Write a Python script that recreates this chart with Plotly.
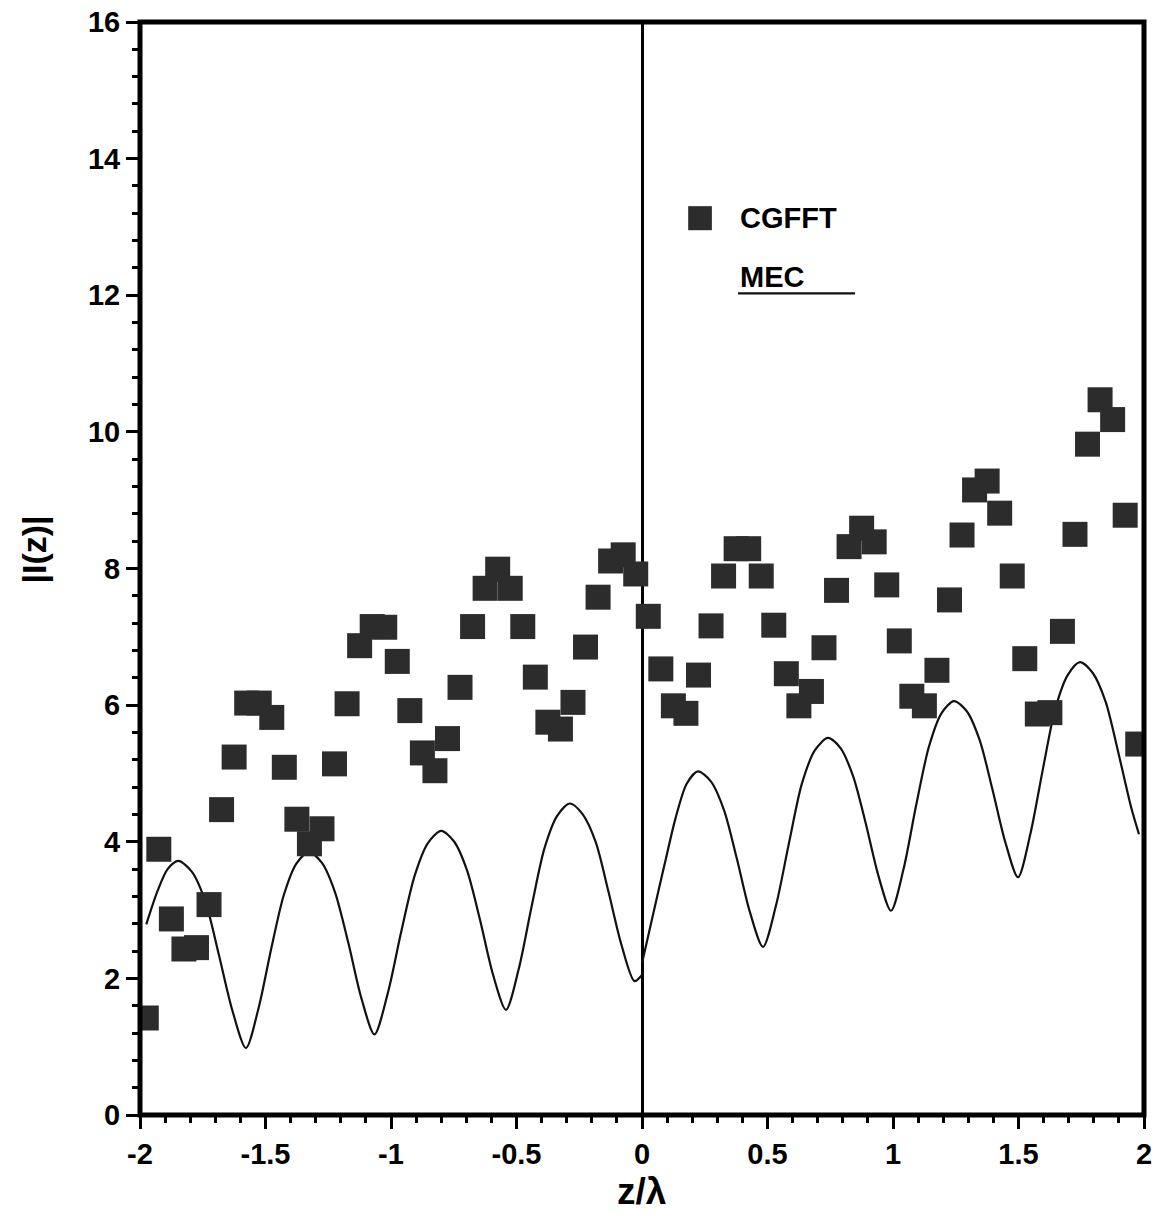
import plotly.graph_objects as go

# ---------------- data ----------------
cgfft_x = [-1.975, -1.925, -1.875, -1.825, -1.775, -1.725, -1.675, -1.625, -1.575, -1.525,
           -1.475, -1.425, -1.375, -1.325, -1.275, -1.225, -1.175, -1.125, -1.075, -1.025,
           -0.975, -0.925, -0.875, -0.825, -0.775, -0.725, -0.675, -0.625, -0.575, -0.525,
           -0.475, -0.425, -0.375, -0.325, -0.275, -0.225, -0.175, -0.125, -0.075, -0.025,
           0.025, 0.075, 0.125, 0.175, 0.225, 0.275, 0.325, 0.375, 0.425, 0.475,
           0.525, 0.575, 0.625, 0.675, 0.725, 0.775, 0.825, 0.875, 0.925, 0.975,
           1.025, 1.075, 1.125, 1.175, 1.225, 1.275, 1.325, 1.375, 1.425, 1.475,
           1.525, 1.575, 1.625, 1.675, 1.725, 1.775, 1.825, 1.875, 1.925, 1.975]
cgfft_y = [1.42, 3.89, 2.87, 2.43, 2.45, 3.08, 4.47, 5.24, 6.03, 6.03,
           5.82, 5.09, 4.33, 3.97, 4.19, 5.14, 6.02, 6.87, 7.15, 7.14,
           6.64, 5.92, 5.30, 5.04, 5.51, 6.26, 7.15, 7.71, 7.99, 7.71,
           7.15, 6.41, 5.75, 5.65, 6.04, 6.85, 7.58, 8.11, 8.20, 7.92,
           7.30, 6.53, 5.99, 5.88, 6.44, 7.16, 7.89, 8.29, 8.29, 7.89,
           7.17, 6.46, 5.99, 6.20, 6.84, 7.68, 8.32, 8.59, 8.39, 7.76,
           6.94, 6.13, 5.99, 6.51, 7.54, 8.49, 9.15, 9.28, 8.81, 7.89,
           6.68, 5.87, 5.89, 7.08, 8.50, 9.82, 10.47, 10.18, 8.78, 5.43]

# MEC curve, left of the source (z < 0)
mec_left_x = [-1.975, -1.930, -1.890, -1.847, -1.793, -1.739, -1.686, -1.632, -1.578,
              -1.528, -1.478, -1.427, -1.377, -1.327, -1.275, -1.223, -1.170, -1.118, -1.066,
              -1.013, -0.960, -0.906, -0.853, -0.800, -0.748, -0.697, -0.645, -0.594, -0.542,
              -0.491, -0.440, -0.389, -0.338, -0.287, -0.236, -0.184, -0.133, -0.081, -0.030, 0.0]
mec_left_y = [2.79, 3.28, 3.60, 3.72, 3.56, 3.12, 2.35, 1.53, 0.98,
              1.56, 2.42, 3.22, 3.68, 3.85, 3.69, 3.26, 2.52, 1.71, 1.18,
              1.78, 2.67, 3.50, 3.98, 4.16, 4.00, 3.58, 2.85, 2.06, 1.54,
              2.14, 3.05, 3.90, 4.38, 4.56, 4.40, 3.99, 3.26, 2.48, 1.96, 2.05]

# MEC curve, right of the source (z > 0)
mec_right_x = [0.0, 0.045, 0.090, 0.134, 0.178, 0.223, 0.275, 0.327, 0.378, 0.430, 0.482,
               0.534, 0.586, 0.637, 0.689, 0.741, 0.791, 0.841, 0.892, 0.942, 0.992,
               1.042, 1.092, 1.143, 1.193, 1.243, 1.294, 1.345, 1.396, 1.447, 1.498,
               1.547, 1.597, 1.646, 1.696, 1.745, 1.796, 1.847, 1.898, 1.949, 1.980]
mec_right_y = [2.22, 2.95, 3.67, 4.35, 4.85, 5.03, 4.88, 4.46, 3.75, 2.97, 2.46,
               3.07, 3.99, 4.85, 5.34, 5.52, 5.37, 4.96, 4.26, 3.50, 2.99,
               3.60, 4.53, 5.39, 5.88, 6.06, 5.91, 5.49, 4.77, 4.00, 3.48,
               4.11, 5.06, 5.94, 6.44, 6.63, 6.47, 6.05, 5.30, 4.50, 4.11]

x_tick_vals = [-2, -1.5, -1, -0.5, 0, 0.5, 1, 1.5, 2]
x_tick_text = ["-2", "-1.5", "-1", "-0.5", "0", "0.5", "1", "1.5", "2"]
y_tick_vals = [0, 2, 4, 6, 8, 10, 12, 14, 16]
y_tick_text = ["0", "2", "4", "6", "8", "10", "12", "14", "16"]

series_names = ["CGFFT", "MEC"]
x_title = "z/λ"
y_title = "|I(z)|"

# ---------------- figure ----------------
FONT = "Liberation Sans"
marker_color = "#2c2c2c"
line_color = "#111111"

fig = go.Figure()
fig.add_trace(go.Scatter(x=mec_left_x, y=mec_left_y, mode="lines",
                         line=dict(color=line_color, width=2.2, shape="spline", smoothing=0.8),
                         name=series_names[1], showlegend=False))
fig.add_trace(go.Scatter(x=mec_right_x, y=mec_right_y, mode="lines",
                         line=dict(color=line_color, width=2.2, shape="spline", smoothing=0.8),
                         name=series_names[1], showlegend=False))
fig.add_trace(go.Scatter(x=cgfft_x, y=cgfft_y, mode="markers",
                         marker=dict(symbol="square", size=25, color=marker_color,
                                     line=dict(width=0)),
                         name=series_names[0], showlegend=False))

tickfont = dict(family=FONT, size=29, color="black", weight="bold")

fig.update_xaxes(range=[-2, 2], tickmode="array", tickvals=x_tick_vals, ticktext=x_tick_text,
                 ticks="outside", ticklen=13, tickwidth=3, tickcolor="black",
                 tickfont=tickfont, showgrid=False, showline=False, automargin=False,
                 zeroline=True, zerolinecolor="black", zerolinewidth=3,
                 minor=dict(dtick=0.1, tick0=-2, ticks="outside", ticklen=7, tickwidth=3,
                            tickcolor="black", showgrid=False))
fig.update_yaxes(range=[0, 16], tickmode="array", tickvals=y_tick_vals, ticktext=y_tick_text,
                 ticks="outside", ticklen=13, tickwidth=3, tickcolor="black",
                 tickfont=tickfont, showgrid=False, showline=False, zeroline=False,
                 automargin=False,
                 minor=dict(dtick=0.4, tick0=0, ticks="outside", ticklen=7, tickwidth=3,
                            tickcolor="black", showgrid=False))

# frame
fig.add_shape(type="rect", xref="paper", yref="paper", x0=0, x1=1, y0=0, y1=1,
              line=dict(color="black", width=5), layer="above")

# legend (custom)
fig.add_shape(type="rect", xref="paper", yref="paper",
              x0=0.5578 - 0.0118, x1=0.5578 + 0.0118, y0=0.8205 - 0.011, y1=0.8205 + 0.011,
              fillcolor=marker_color, line=dict(width=0))
fig.add_annotation(xref="paper", yref="paper", x=0.5956, y=0.8205, text=series_names[0],
                   showarrow=False, xanchor="left", yanchor="middle",
                   font=dict(family=FONT, size=29, color="black", weight="bold"))
fig.add_annotation(xref="paper", yref="paper", x=0.5956, y=0.7665, text=series_names[1],
                   showarrow=False, xanchor="left", yanchor="middle",
                   font=dict(family=FONT, size=29, color="black", weight="bold"))
fig.add_shape(type="line", xref="paper", yref="paper", x0=0.5956, x1=0.7122, y0=0.7518, y1=0.7518,
              line=dict(color=line_color, width=2.2))

# axis titles
fig.add_annotation(xref="paper", yref="paper", x=0.5, y=-0.0905, text=x_title, showarrow=False,
                   xanchor="center", yanchor="bottom",
                   font=dict(family=FONT, size=37, color="black", weight="bold"))
fig.add_annotation(xref="paper", yref="paper", x=-0.106, y=0.517, text=y_title, showarrow=False,
                   xanchor="center", yanchor="middle", textangle=-90,
                   font=dict(family=FONT, size=34, color="black", weight="bold"))

fig.update_layout(width=1160, height=1216, autosize=False,
                  margin=dict(l=140, r=16, t=22, b=101),
                  paper_bgcolor="white", plot_bgcolor="white", showlegend=False)

fig.write_html("out.html")
